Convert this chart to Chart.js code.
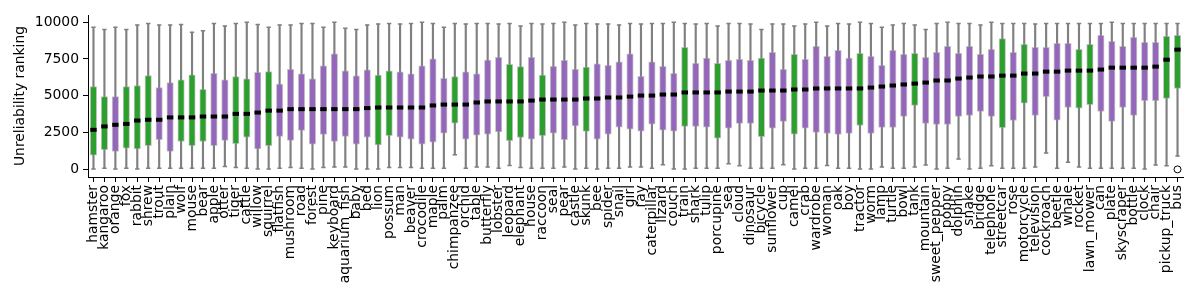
<!DOCTYPE html>
<html>
<head>
<meta charset="utf-8">
<script src="https://cdn.jsdelivr.net/npm/chart.js@4"></script>
<style>
  html, body { margin: 0; padding: 0; background: #fff; }
  #wrap { width: 1200px; height: 300px; position: relative; }
</style>
</head>
<body>
<div id="wrap"><canvas id="chart"></canvas></div>
<script>
const categories = ["hamster","kangaroo","orange","fox","rabbit","shrew","trout","plain","wolf","mouse",
  "bear","apple","otter","tiger","cattle","willow","squirrel","flatfish","mushroom","road",
  "forest","pine","keyboard","aquarium_fish","baby","bed","lion","possum","man","beaver",
  "crocodile","maple","palm","chimpanzee","orchid","table","butterfly","lobster","leopard","elephant",
  "house","raccoon","seal","pear","castle","skunk","bee","spider","snail","girl",
  "ray","caterpillar","lizard","couch","train","shark","tulip","porcupine","sea","cloud",
  "dinosaur","bicycle","sunflower","cup","camel","crab","wardrobe","woman","oak","boy",
  "tractor","worm","lamp","turtle","bowl","tank","mountain","sweet_pepper","poppy","dolphin",
  "snake","bridge","telephone","streetcar","rose","motorcycle","television","cockroach","beetle","whale",
  "rocket","lawn_mower","can","plate","skyscraper","bottle","clock","chair","pickup_truck","bus"];

// G = green box, P = purple box
const group = ["G","G","P","G","G","G","P","P","G","G",
  "G","P","P","G","G","P","G","P","P","P",
  "P","P","P","P","P","P","G","G","P","P",
  "P","P","P","G","P","P","P","P","G","G",
  "P","G","P","P","P","G","P","P","P","P",
  "P","P","P","P","G","P","P","G","P","P",
  "P","G","P","P","G","P","P","P","P","P",
  "G","P","P","P","P","G","P","P","P","P",
  "P","P","P","G","P","G","P","P","P","P",
  "G","G","P","P","P","P","P","P","G","G"];

const whiskerLow = [50,100,50,100,50,100,100,100,100,100,
  100,100,220,150,100,50,50,100,150,100,
  50,150,180,180,50,50,50,150,150,150,
  100,100,100,1010,100,180,180,100,290,150,
  100,100,100,180,50,100,50,100,100,180,
  180,100,340,50,50,100,100,100,410,270,
  100,100,100,340,50,100,100,290,100,100,
  50,50,180,100,100,180,320,50,100,720,
  50,100,270,100,100,100,180,1130,100,500,
  180,100,100,100,100,100,50,320,270,920];

const q1 = [990,1350,1240,1460,1400,1620,2030,1240,1910,1620,
  1910,1620,1980,1760,2200,1400,1620,2250,1980,2660,
  1730,2390,1910,2250,1730,2200,1670,2300,2200,2070,
  1730,1870,2480,3150,2070,2340,2410,2550,1960,2180,
  2070,2300,2480,2030,2970,2590,2070,2410,2880,2750,
  2610,3090,2680,2610,2930,2930,2880,2140,2820,3130,
  3130,2230,2820,3270,2410,2820,2520,2450,2390,2450,
  3000,2450,2860,2860,3600,4350,3130,3060,3060,3600,
  3670,3940,3600,2840,3330,4500,3670,4950,3360,4210,
  4170,4410,3940,3270,4210,3670,4680,4680,4820,5500];

const median = [2700,2930,3040,3100,3330,3380,3380,3540,3540,3540,
  3600,3600,3600,3780,3780,3870,4000,4000,4100,4100,
  4100,4100,4100,4100,4100,4170,4210,4210,4210,4210,
  4210,4350,4410,4410,4410,4550,4620,4620,4620,4620,
  4680,4750,4750,4750,4750,4820,4820,4890,4890,4950,
  5020,5020,5090,5090,5230,5230,5230,5230,5290,5290,
  5290,5360,5360,5360,5430,5430,5500,5500,5500,5500,
  5500,5560,5630,5700,5770,5830,5900,6040,6040,6170,
  6240,6310,6310,6370,6370,6510,6510,6640,6640,6710,
  6710,6710,6780,6910,6910,6910,6910,6980,7450,8130];

const q3 = [5630,4950,4950,5630,5700,6370,5560,5900,6080,6420,
  5450,6530,6080,6300,6150,6600,6640,5790,6800,6490,
  6150,7030,7840,6690,6350,6760,6400,6690,6620,6490,
  7030,7500,6190,6300,6620,6490,7430,7610,7140,6980,
  7610,6400,7000,7410,6800,6940,7160,7070,7300,7840,
  6330,7300,7000,6530,8290,7210,7550,7210,7410,7480,
  7410,7550,7950,6800,7820,7480,8360,7680,8090,7550,
  7880,7680,7070,8090,7820,7880,7610,7950,8360,7880,
  8360,7820,8150,8870,7950,8490,8290,8290,8560,8560,
  8150,8490,9100,8690,8360,8960,8630,8630,9030,9100];

const whiskerHigh = [9640,9500,9640,9500,9800,9900,9800,9800,9840,9300,
  9410,9900,9730,9900,9980,9840,9640,9800,9800,9900,
  9900,9640,9980,9570,9500,9800,9860,9900,9860,9900,
  9980,9900,9640,9900,9860,9900,9900,9860,9900,9730,
  9900,9860,9900,9980,9800,9900,9860,9860,9800,9900,
  9860,9900,9900,9980,9900,9860,9900,9730,9900,9900,
  9860,9500,9860,9860,9730,9860,9980,9730,9900,9860,
  9980,9900,9640,9800,9900,9800,9500,9900,9980,9900,
  9900,9800,9980,9900,9900,9900,9860,9900,9900,9900,
  9900,9900,9900,9980,9900,9900,9900,9900,9900,9900];

const outliers = categories.map((c) => c === "bus" ? 20 : null);

const yTicks = [0, 2500, 5000, 7500, 10000];

const colorMap = { G: "#2ca02c", P: "#9467bd" };
const boxColors = group.map((g) => colorMap[g]);
const whiskerGray = "#808080";
const font = { family: "'DejaVu Sans', sans-serif", size: 13.9 };

const ctx = document.getElementById("chart");

new Chart(ctx, {
  data: {
    labels: categories,
    datasets: [
      {
        type: "bar",
        data: categories.map((c, i) => [whiskerLow[i], whiskerHigh[i]]),
        backgroundColor: whiskerGray,
        barThickness: 1.5,
        grouped: false,
        order: 4,
      },
      {
        type: "line",
        data: whiskerLow,
        showLine: false,
        pointStyle: "line",
        pointRadius: 2.2,
        borderWidth: 1.5,
        borderColor: whiskerGray,
        order: 3,
      },
      {
        type: "line",
        data: whiskerHigh,
        showLine: false,
        pointStyle: "line",
        pointRadius: 2.2,
        borderWidth: 1.5,
        borderColor: whiskerGray,
        order: 3,
      },
      {
        type: "bar",
        data: categories.map((c, i) => [q1[i], q3[i]]),
        backgroundColor: boxColors,
        borderColor: "rgba(150,150,150,0.55)",
        borderWidth: 1,
        borderSkipped: false,
        barThickness: 6.5,
        grouped: false,
        order: 2,
      },
      {
        type: "line",
        data: median,
        showLine: false,
        pointStyle: "line",
        pointRadius: 3.2,
        borderWidth: 4,
        borderColor: "#000",
        order: 1,
      },
      {
        type: "line",
        data: outliers,
        showLine: false,
        pointStyle: "circle",
        pointRadius: 3.5,
        borderWidth: 1,
        borderColor: "#000",
        backgroundColor: "rgba(0,0,0,0)",
        order: 0,
      },
    ],
  },
  options: {
    responsive: true,
    maintainAspectRatio: false,
    animation: false,
    layout: { padding: { left: 8, top: 15, right: 17, bottom: 0 } },
    plugins: {
      legend: { display: false },
      tooltip: { enabled: false },
    },
    scales: {
      x: {
        type: "category",
        offset: true,
        afterFit: (scale) => { scale.height = 123; },
        grid: {
          offset: false,
          drawOnChartArea: false,
          drawTicks: true,
          tickLength: 5,
          color: "#000",
        },
        border: { display: true, color: "#000", width: 1 },
        ticks: {
          autoSkip: false,
          maxRotation: 90,
          minRotation: 90,
          padding: 3,
          color: "#000",
          font: font,
        },
      },
      y: {
        min: -495,
        max: 10475,
        afterFit: (scale) => { scale.width = 80; },
        afterBuildTicks: (scale) => { scale.ticks = yTicks.map((v) => ({ value: v })); },
        grid: {
          drawOnChartArea: false,
          drawTicks: true,
          tickLength: 5,
          color: "#000",
        },
        border: { display: true, color: "#000", width: 1 },
        ticks: {
          padding: 4,
          color: "#000",
          font: font,
          callback: (v) => String(v),
        },
        title: {
          display: true,
          text: "Unreliability ranking",
          color: "#000",
          font: font,
        },
      },
    },
  },
});
</script>
</body>
</html>
